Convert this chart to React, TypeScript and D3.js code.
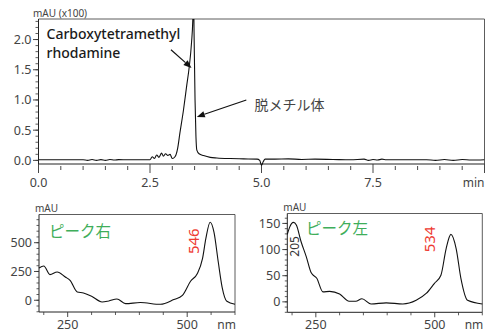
import React from "react";
import * as d3 from "d3";

// main chromatogram (time in min, absorbance in mAU x100)
const traceTime = [
  0, 0.5, 1.0, 1.1, 1.2, 1.3, 1.4, 1.5, 1.6, 1.7, 1.8, 2.0, 2.3, 2.5, 2.55, 2.6, 2.65, 2.7, 2.76, 2.8,
  2.85, 2.9, 2.95, 3.0, 3.06, 3.12, 3.17, 3.25, 3.32, 3.38, 3.43, 3.46, 3.475, 3.49, 3.51, 3.53, 3.55,
  3.6, 3.7, 3.85, 4.0, 4.3, 4.6, 4.9, 4.96, 5.0, 5.04, 5.08, 5.3, 5.6, 5.9, 6.2, 6.6, 7.0, 7.3, 7.4,
  7.5, 7.6, 7.7, 7.8, 8.2, 8.7, 8.9, 9.1, 9.3, 9.5, 9.7, 10.0,
];
const traceValue = [
  0.01, 0.01, 0.01, 0.0, 0.015, 0.0, 0.012, 0.0, 0.015, 0.005, 0.012, 0.01, 0.01, 0.01, 0.06, 0.03,
  0.09, 0.05, 0.12, 0.07, 0.11, 0.08, 0.1, 0.03, 0.06, 0.2, 0.45, 0.83, 1.22, 1.55, 1.94, 2.33, 2.8,
  2.0, 1.0, 0.4, 0.17, 0.11, 0.08, 0.05, 0.04, 0.03, 0.025, 0.02, 0.0, -0.08, -0.02, 0.02, 0.02, 0.025,
  0.015, 0.02, 0.015, 0.01, 0.02, 0.0, 0.015, 0.005, 0.02, 0.01, 0.01, 0.01, 0.0, 0.015, 0.0, 0.015,
  0.005, 0.01,
];
const mainMajorX = [0, 2.5, 5, 7.5];
const mainXLabels = ["0.0", "2.5", "5.0", "7.5"];
const mainMajorY = [0, 0.5, 1.0, 1.5, 2.0];

// UV spectrum of the right peak
const rightNm = [190, 200, 213, 228, 245, 255, 270, 283, 300, 322, 336, 353, 371, 402, 444, 472, 490, 507, 521, 532, 539, 548, 556, 565, 573, 583, 600];
const rightAbs = [280, 297, 223, 245, 202, 173, 72, 63, 35, -15, -6, 11, -29, -20, -35, 6, 43, 165, 231, 361, 535, 678, 592, 332, 115, -9, -35];

// UV spectrum of the left peak
const leftNm = [190, 195, 203, 209, 219, 230, 240, 252, 265, 279, 300, 320, 334, 347, 366, 398, 433, 461, 482, 499, 513, 524, 534, 545, 555, 569, 600];
const leftAbs = [129, 143, 152, 147, 115, 86, 56, 45, 19, 20, 15, 1, 1, 6, -4, -2, -4, 3, 16, 35, 51, 102, 129, 102, 45, 3, -4];

const specMajorX = [250, 500];
const specMinorX = [200, 300, 350, 400, 450, 550, 600];

const font = "'Noto Sans', 'Noto Sans CJK JP', sans-serif";
const grey = "#444";
const green = "#3fae5a";
const red = "#ee3a32";

function Arrow({ x1, y1, x2, y2 }: { x1: number; y1: number; x2: number; y2: number }) {
  const a = Math.atan2(y2 - y1, x2 - x1);
  const L = 8, W = 3.2;
  const bx = x2 - L * Math.cos(a), by = y2 - L * Math.sin(a);
  const pts = [
    [x2, y2],
    [bx + W * Math.sin(a), by - W * Math.cos(a)],
    [bx - W * Math.sin(a), by + W * Math.cos(a)],
  ];
  return (
    <g>
      <line x1={x1} y1={y1} x2={bx} y2={by} stroke="#111" strokeWidth={1.2} />
      <polygon points={pts.map((p) => p.join(",")).join(" ")} fill="#111" />
    </g>
  );
}

function Spectrum(props: {
  nm: number[]; abs: number[]; x0: number; x1: number; yTop: number; yBot: number;
  yDomain: [number, number]; majorY: number[]; minorStep: number; title: string; titleX: number; titleY: number;
  peakNm: number; peakLabel: string; labelDx: number; labelDy: number; extra?: React.ReactNode;
}) {
  const { nm, abs, x0, x1, yTop, yBot, yDomain, majorY, minorStep } = props;
  const x = d3.scaleLinear().domain([190, 600]).range([x0, x1]);
  const y = d3.scaleLinear().domain(yDomain).range([yBot, yTop]);
  const line = d3.line<number>().x((_, i) => x(nm[i])).y((d) => y(d)).curve(d3.curveMonotoneX);
  const minorY = d3.range(Math.ceil(yDomain[0] / minorStep) * minorStep, yDomain[1], minorStep);
  const peakVal = abs[nm.indexOf(props.peakNm)] ?? d3.max(abs.slice(nm.findIndex((n) => n > 450))) ?? 0;
  return (
    <g fontFamily={font}>
      <path d={`M${x0},${yTop}H${x1}V${yBot}`} fill="none" stroke="#333" strokeWidth={0.8} />
      <line x1={x0} x2={x0} y1={yTop} y2={yBot} stroke="#222" strokeWidth={1} />
      <line x1={x0} x2={x1} y1={yBot} y2={yBot} stroke="#222" strokeWidth={1} />
      {minorY.map((v) => (
        <line key={"m" + v} x1={x0 - 2.5} x2={x0} y1={y(v)} y2={y(v)} stroke="#333" strokeWidth={0.8} />
      ))}
      {majorY.map((v) => (
        <g key={"M" + v}>
          <line x1={x0 - 5} x2={x0} y1={y(v)} y2={y(v)} stroke="#333" strokeWidth={0.9} />
          <text x={x0 - 7} y={y(v) + 4.5} fontSize={12.5} fill={grey} textAnchor="end">{v}</text>
        </g>
      ))}
      {specMinorX.map((v) => (
        <line key={"xm" + v} x1={x(v)} x2={x(v)} y1={yBot} y2={yBot + 3} stroke="#333" strokeWidth={0.8} />
      ))}
      {specMajorX.map((v) => (
        <g key={"xM" + v}>
          <line x1={x(v)} x2={x(v)} y1={yBot} y2={yBot + 5} stroke="#333" strokeWidth={0.9} />
          <text x={x(v)} y={yBot + 16.5} fontSize={12.5} fill={grey} textAnchor="middle">{v}</text>
        </g>
      ))}
      <text x={x1 + 1} y={yBot + 17} fontSize={12} fill={grey} textAnchor="end">nm</text>
      <text x={x0 - 4} y={yTop - 3} fontSize={10} fill={grey}>mAU</text>
      <path d={line(abs) || ""} fill="none" stroke="#111" strokeWidth={1.1} />
      <text x={props.titleX} y={props.titleY} fontSize={15.5} fill={green}>{props.title}</text>
      <text
        transform={`translate(${x(props.peakNm) + props.labelDx},${y(peakVal) + props.labelDy}) rotate(-90)`}
        fontSize={15} fill={red} textAnchor="middle"
      >
        {props.peakLabel}
      </text>
      {props.extra}
    </g>
  );
}

export default function App() {
  const x = d3.scaleLinear().domain([0, 10]).range([38.5, 484.5]);
  const y = d3.scaleLinear().domain([-0.06, 2.34]).range([164, 19]);
  const line = d3.line<number>().x((_, i) => x(traceTime[i])).y((d) => y(d)).curve(d3.curveMonotoneX);
  const minorX = d3.range(0.5, 10.01, 0.5).filter((v) => v % 2.5 !== 0);
  const minorY = d3.range(0, 2.31, 0.1);
  const rx = d3.scaleLinear().domain([190, 600]).range([287.3, 482.3]);
  const ry = d3.scaleLinear().domain([-20, 169]).range([312.3, 213.5]);

  return (
    <svg width={486} height={334} style={{ position: "absolute", left: 0, top: 0, background: "#fff" }}>
      <defs>
        <clipPath id="mainClip">
          <rect x={38.5} y={19} width={446} height={152} />
        </clipPath>
      </defs>
      <g fontFamily={font}>
        <path d={`M${x(0)},${y(2.34)}H${x(10)}V${y(-0.06)}`} fill="none" stroke="#333" strokeWidth={0.8} />
        <line x1={x(0)} x2={x(0)} y1={y(2.34)} y2={y(-0.06)} stroke="#222" strokeWidth={1} />
        <line x1={x(0)} x2={x(10)} y1={y(-0.06)} y2={y(-0.06)} stroke="#222" strokeWidth={1} />
        {minorY.map((v) => (
          <line key={"ym" + v} x1={x(0) - 3} x2={x(0)} y1={y(v)} y2={y(v)} stroke="#333" strokeWidth={0.8} />
        ))}
        {mainMajorY.map((v) => (
          <g key={"yM" + v}>
            <line x1={x(0) - 5.5} x2={x(0)} y1={y(v)} y2={y(v)} stroke="#333" strokeWidth={0.9} />
            <text x={x(0) - 7} y={y(v) + 4.5} fontSize={12.5} fill={grey} textAnchor="end">{v.toFixed(1)}</text>
          </g>
        ))}
        {minorX.map((v) => (
          <line key={"xm" + v} x1={x(v)} x2={x(v)} y1={y(-0.06) + 2} y2={y(-0.06) + 6} stroke="#333" strokeWidth={0.9} />
        ))}
        {mainMajorX.map((v, i) => (
          <g key={"xM" + v}>
            <line x1={x(v)} x2={x(v)} y1={y(-0.06)} y2={y(-0.06) + 9} stroke="#333" strokeWidth={0.9} />
            <text x={x(v)} y={y(-0.06) + 22.5} fontSize={12.5} fill={grey} textAnchor="middle">{mainXLabels[i]}</text>
          </g>
        ))}
        <line x1={x(10)} x2={x(10)} y1={y(-0.06)} y2={y(-0.06) + 9} stroke="#333" strokeWidth={0.9} />
        <text x={x(10)} y={y(-0.06) + 22.5} fontSize={12} fill={grey} textAnchor="end">min</text>
        <text x={33} y={y(2.34) - 2} fontSize={10} fill={grey}>mAU (x100)</text>
        <path d={line(traceValue) || ""} fill="none" stroke="#111" strokeWidth={1.1} clipPath="url(#mainClip)" />
        <text x={46.5} y={38.5} fontSize={14} fontWeight={500} fill="#1a1a1a">Carboxytetramethyl</text>
        <text x={46.5} y={57.5} fontSize={14} fontWeight={500} fill="#1a1a1a">rhodamine</text>
        <Arrow x1={x(2.97)} y1={y(1.83)} x2={x(3.43)} y2={y(1.53)} />
        <Arrow x1={x(4.66)} y1={y(1.0)} x2={x(3.55)} y2={y(0.72)} />
        <text x={254.5} y={110} fontSize={14} fill={grey}>脱メチル体</text>
      </g>
      <Spectrum
        nm={rightNm} abs={rightAbs} x0={39} x1={235} yTop={214.5} yBot={312}
        yDomain={[-102, 745]} majorY={[0, 250, 500]} minorStep={50}
        title="ピーク右" titleX={49} titleY={236.5} peakNm={546} peakLabel="546" labelDx={-10.5} labelDy={19}
      />
      <Spectrum
        nm={leftNm} abs={leftAbs} x0={287.3} x1={482.3} yTop={213.5} yBot={312.3}
        yDomain={[-20, 169]} majorY={[0, 50, 100, 150]} minorStep={10}
        title="ピーク左" titleX={306} titleY={233.5} peakNm={534} peakLabel="534" labelDx={-16} labelDy={5}
        extra={
          <text
            transform={`translate(${rx(205) + 4.5},${ry(152) + 24}) rotate(-90)`}
            fontSize={12} fill="#333" textAnchor="middle" fontFamily={font}
          >
            205
          </text>
        }
      />
    </svg>
  );
}
